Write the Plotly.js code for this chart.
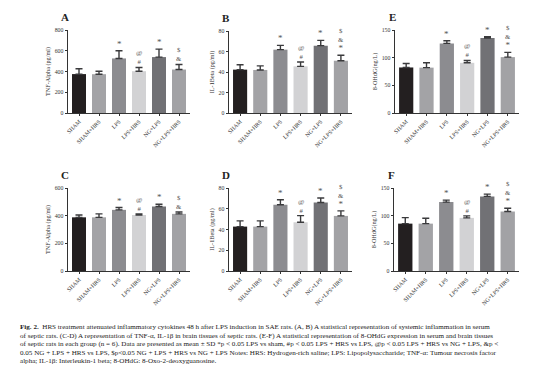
<!DOCTYPE html>
<html>
<head>
<meta charset="utf-8">
<script src="https://cdn.plot.ly/plotly-3.0.1.min.js"></script>
<style>html,body{margin:0;padding:0;background:#fff;}#chart{width:553px;height:377px;}</style>
</head>
<body>
<div id="chart"></div>
<script>
// ---- data ----
const groups = ["SHAM", "SHAM+HRS", "LPS", "LPS+HRS", "NG+LPS", "NG+LPS+HRS"];
const barColors = ["#231f20", "#a3a3a6", "#8c8c90", "#d2d2d4", "#717175", "#a2a2a5"];

// significance symbols listed from the bar upward
// A: serum TNF-alpha (pg/ml)
const meanA = [375, 374, 526, 403, 539, 419];
const sdA   = [52, 28, 74, 36, 77, 49];
const sigA  = ["", "", "*", "#\n@", "*", "&\n$"];
// B: serum IL-1beta (pg/ml)
const meanB = [42.3, 42.0, 61.8, 45.5, 65.7, 51.0];
const sdB   = [4.7, 4.0, 4.2, 4.3, 5.2, 5.3];
const sigB  = ["", "", "*", "#\n@", "*", "*\n&\n$"];
// E: serum 8-OHdG (ng/L)
const meanE = [82.3, 82.0, 125.8, 90.7, 135.5, 101.0];
const sdE   = [7.2, 8.7, 4.9, 4.3, 2.5, 8.5];
const sigE  = ["", "", "*", "#\n@", "*", "*\n&\n$"];
// C: brain TNF-alpha (pg/ml)
const meanC = [388, 388, 442, 405, 466, 413];
const sdC   = [17, 25, 17, 8, 17, 14];
const sigC  = ["", "", "*", "#\n@", "*", "&\n$"];
// D: brain IL-1beta (pg/ml)
const meanD = [42.8, 42.8, 63.8, 47.0, 66.0, 53.1];
const sdD   = [5.5, 5.5, 4.9, 6.4, 4.3, 4.9];
const sigD  = ["", "", "*", "#\n@", "*", "*\n&\n$"];
// F: brain 8-OHdG (ng/L)
const meanF = [85.6, 85.6, 124.5, 96.0, 134.8, 107.5];
const sdF   = [10.9, 9.7, 3.5, 3.6, 4.2, 6.0];
const sigF  = ["", "", "*", "#\n@", "*", "*\n&\n$"];

const captionLines = [
  "<b>Fig. 2.</b>  HRS treatment attenuated inflammatory cytokines 48 h after LPS induction in SAE rats. (A, B) A statistical representation of systemic inflammation in serum",
  "of septic rats. (C-D) A representation of TNF-α, IL-1β in brain tissues of septic rats. (E-F) A statistical representation of 8-OHdG expression in serum and brain tissues",
  "of septic rats in each group (n = 6). Data are presented as mean ± SD *p < 0.05 LPS vs sham, #p < 0.05 LPS + HRS vs LPS, @p < 0.05 LPS + HRS vs NG + LPS, &p <",
  "0.05 NG + LPS + HRS vs LPS, $p<0.05 NG + LPS + HRS vs NG + LPS Notes: HRS: Hydrogen-rich saline; LPS: Lipopolysaccharide; TNF-α: Tumour necrosis factor",
  "alpha; IL-1β: Interleukin-1 beta; 8-OHdG: 8-Oxo-2-deoxyguanosine."
];

// ---- layout helpers ----
const W = 553, H = 377;
const SERIF = "Liberation Serif, Times New Roman, serif";
const panels = [
  {key:"A", mean:meanA, sd:sdA, sig:sigA, title:"TNF-Alpha (pg/ml)", range:[0,800], dtick:200, x:[68,190], y:[30,113]},
  {key:"B", mean:meanB, sd:sdB, sig:sigB, title:"IL-1Beta (pg/ml)",  range:[0,80],  dtick:20,  x:[229,352], y:[31,113]},
  {key:"E", mean:meanE, sd:sdE, sig:sigE, title:"8-OHdG(ng/L)",      range:[0,150], dtick:50,  x:[395,519], y:[30,113]},
  {key:"C", mean:meanC, sd:sdC, sig:sigC, title:"TNF-Alpha (pg/ml)", range:[0,600], dtick:200, x:[68,190], y:[188,271]},
  {key:"D", mean:meanD, sd:sdD, sig:sigD, title:"IL-1Beta (pg/ml)",  range:[0,80],  dtick:20,  x:[229,352], y:[188,271]},
  {key:"F", mean:meanF, sd:sdF, sig:sigF, title:"8-OHdG(ng/L)",      range:[0,150], dtick:50,  x:[394,519], y:[188,271]}
];

const data = [];
const layout = {
  width: W, height: H,
  margin: {l:0, r:0, t:0, b:0},
  paper_bgcolor: "#ffffff", plot_bgcolor: "#ffffff",
  showlegend: false,
  bargap: 0.3,
  font: {family: SERIF, color: "#222"},
  annotations: []
};

panels.forEach((p, i) => {
  const n = i + 1;
  const xa = n === 1 ? "x" : "x" + n;
  const ya = n === 1 ? "y" : "y" + n;
  data.push({
    type: "bar",
    x: groups.map((g, k) => k),
    y: p.mean,
    xaxis: xa, yaxis: ya,
    marker: {color: barColors, line: {width: 0}},
    error_y: {type: "data", symmetric: false, array: p.sd, arrayminus: p.mean.map(() => 0),
              color: "#3a3a3c", thickness: 1.4, width: 3.5},
    hoverinfo: "skip"
  });
  const xkey = n === 1 ? "xaxis" : "xaxis" + n;
  const ykey = n === 1 ? "yaxis" : "yaxis" + n;
  layout[xkey] = {
    domain: [p.x[0] / W, p.x[1] / W],
    anchor: ya,
    range: [-0.55, 5.55],
    tickmode: "array",
    tickvals: groups.map((g, k) => k),
    ticktext: groups,
    tickangle: -45,
    tickfont: {family: SERIF, size: 5.8, color: "#333"},
    ticks: "outside", ticklen: 2, tickcolor: "#333",
    showline: true, linecolor: "#333", linewidth: 1,
    showgrid: false, zeroline: false, fixedrange: true
  };
  layout[ykey] = {
    domain: [1 - p.y[1] / H, 1 - p.y[0] / H],
    anchor: xa,
    range: p.range,
    dtick: p.dtick,
    tick0: 0,
    tickfont: {family: SERIF, size: 5.8, color: "#333"},
    ticks: "outside", ticklen: 2.5, tickcolor: "#333",
    showline: true, linecolor: "#333", linewidth: 1,
    showgrid: false, zeroline: false, fixedrange: true,
    title: {text: p.title, font: {family: SERIF, size: 6.2, color: "#333"}, standoff: 3}
  };
  // panel letter
  layout.annotations.push({
    xref: "paper", yref: "paper",
    x: (p.x[0] - 3) / W, y: 1 - (p.y[0] - 13) / H,
    text: "<b>" + p.key + "</b>", showarrow: false,
    xanchor: "center", yanchor: "middle",
    font: {family: SERIF, size: 11, color: "#222"}
  });
  // significance symbols: one stacked text block per bar, first symbol nearest the bar
  p.sig.forEach((s, k) => {
    if (!s) return;
    const syms = s.split("\n").slice().reverse()
      .map(c => c === "*" ? '<span style="font-size:9px">*</span>' : c);
    layout.annotations.push({
      xref: xa, yref: ya,
      x: k, y: p.mean[k] + p.sd[k],
      text: syms.join("<br>"),
      showarrow: false, xanchor: "center", yanchor: "bottom",
      yshift: 1, borderpad: 0,
      font: {family: SERIF, size: 6.8, color: "#555"}
    });
  });
});

// caption
captionLines.forEach((line, i) => {
  layout.annotations.push({
    xref: "paper", yref: "paper",
    x: 18 / W, y: 1 - (327 + i * 8.6) / H,
    text: line, showarrow: false,
    xanchor: "left", yanchor: "middle",
    font: {family: SERIF, size: 7.1, color: "#1a1a1a"}
  });
});

Plotly.newPlot("chart", data, layout, {displayModeBar: false, staticPlot: true});
</script>
</body>
</html>
